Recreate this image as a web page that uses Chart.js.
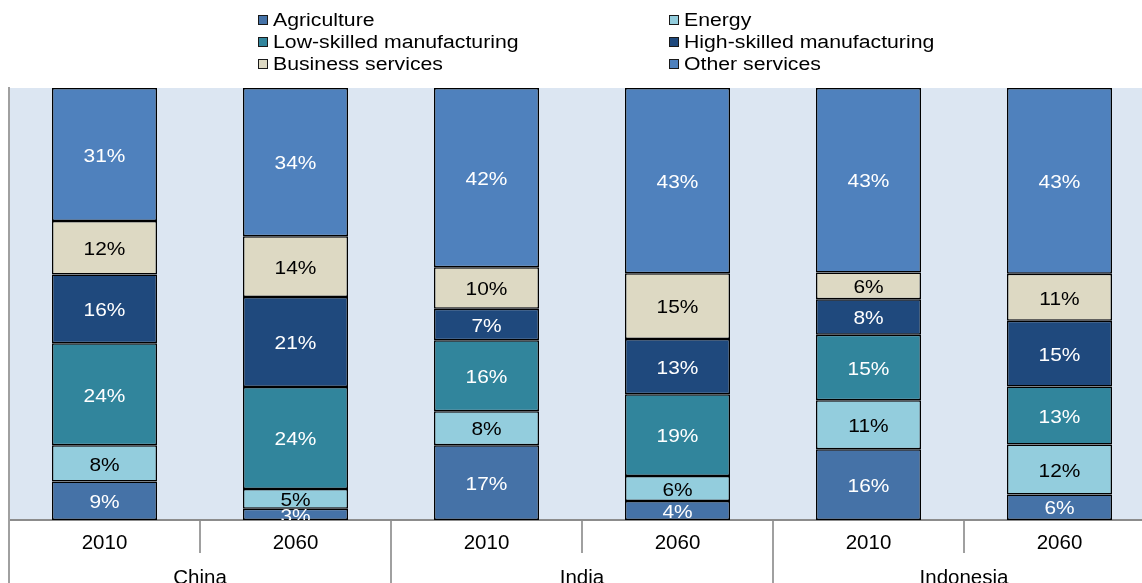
<!DOCTYPE html>
<html><head><meta charset="utf-8">
<script src="https://cdn.jsdelivr.net/npm/chart.js@4/dist/chart.umd.min.js"></script>
<style>
html,body{margin:0;padding:0;background:#fff;overflow:hidden;}
#wrap{position:relative;width:1155px;height:600px;}
#legend{position:absolute;left:0;top:0;width:1142px;height:80px;font-family:"Liberation Sans",Arial,sans-serif;font-size:18px;color:#000;}
.li{position:absolute;display:flex;align-items:center;white-space:nowrap;line-height:1;height:20px;margin-top:-10px;}
.sw{width:8px;height:8px;border:1px solid #1a1a1a;margin-right:5px;flex:none;}
.tx{display:inline-block;transform:scaleX(1.18);transform-origin:0 50%;}
</style></head><body>
<div id="wrap"><canvas id="c"></canvas><div id="legend"></div></div>
<script>
const categories = ['2010','2060','2010','2060','2010','2060'];
const countries = ['China','India','Indonesia'];
const seriesNames = ['Agriculture','Energy','Low-skilled manufacturing','High-skilled manufacturing','Business services','Other services'];
const agriculture = [8.9, 2.6, 17.3, 4.4, 16.4, 5.9];
const energy      = [8.4, 4.6, 7.9, 5.8, 11.3, 11.6];
const lowSkilled  = [23.6, 23.6, 16.4, 18.9, 15.2, 13.4];
const highSkilled = [15.9, 20.8, 7.3, 12.8, 8.2, 15.2];
const business    = [12.4, 14.1, 9.6, 15.2, 6.2, 10.9];
const otherServ   = [30.8, 34.3, 41.5, 42.9, 42.7, 43.0];

const seriesData = [agriculture, energy, lowSkilled, highSkilled, business, otherServ];
const colors = ['#4572A7','#93CDDD','#31859C','#1F497D','#DDD9C3','#4F81BD'];
const labelColors = ['#fff','#000','#fff','#fff','#000','#fff'];
const FONT = '"Liberation Sans", Arial, sans-serif';

// HTML legend (two columns, three rows)
const legendPos = [[258,20],[669,20],[258,42],[669,42],[258,64],[669,64]];
const lg = document.getElementById('legend');
seriesNames.forEach((n,i)=>{
  const d = document.createElement('div');
  d.className='li';
  d.style.left = legendPos[i][0]+'px';
  d.style.top = legendPos[i][1]+'px';
  d.innerHTML = '<span class="sw" style="background:'+colors[i]+'"></span><span class="tx">'+n+'</span>';
  lg.appendChild(d);
});

const bgPlugin = {
  id:'plotBg',
  beforeDraw(chart){
    const a = chart.chartArea, ctx = chart.ctx;
    ctx.save(); ctx.fillStyle = '#DCE6F2';
    ctx.fillRect(a.left, a.top, a.right-a.left, a.bottom-a.top);
    ctx.restore();
  }
};
const labelPlugin = {
  id:'segLabels',
  afterDatasetsDraw(chart){
    const ctx = chart.ctx, a = chart.chartArea;
    ctx.save();
    ctx.beginPath(); ctx.rect(a.left, a.top, a.right-a.left, a.bottom-a.top); ctx.clip();
    ctx.font = '19px ' + FONT;
    ctx.textAlign = 'center'; ctx.textBaseline = 'middle';
    chart.data.datasets.forEach((ds,i)=>{
      const meta = chart.getDatasetMeta(i);
      meta.data.forEach((el,j)=>{
        const p = el.getProps(['x','y','base'], true);
        ctx.save();
        ctx.translate(p.x, (p.y + p.base)/2 + 2);
        ctx.scale(1.1, 1);
        ctx.fillStyle = labelColors[i];
        ctx.fillText(Math.round(ds.data[j]) + '%', 0, 0);
        ctx.restore();
      });
    });
    ctx.restore();
  }
};

new Chart(document.getElementById('c'), {
  type:'bar',
  data:{
    labels: categories,
    datasets: seriesNames.map((n,i)=>({
      label:n, data:seriesData[i], backgroundColor:colors[i],
      borderColor:'#000', borderWidth:1.5, borderSkipped:false,
      barPercentage:0.55, categoryPercentage:1.0
    }))
  },
  options:{
    responsive:true, maintainAspectRatio:false, animation:false,
    layout:{padding:{top:88,left:0,right:0,bottom:0}},
    plugins:{legend:{display:false}, tooltip:{enabled:false}},
    scales:{
      x:{
        stacked:true, position:'bottom', weight:0, offset:true,
        grid:{display:true, drawOnChartArea:false, drawTicks:true, tickLength:33, offset:true, color:'#a0a0a0', lineWidth:2},
        border:{display:true, color:'#8c8c8c', width:2},
        ticks:{padding:-22, color:'#000', font:{size:20.5, family:FONT}, maxRotation:0, autoSkip:false},
        afterFit(s){ s.height = 33; }
      },
      x2:{
        type:'category', labels:countries, position:'bottom', weight:10, offset:true,
        grid:{display:true, drawOnChartArea:false, drawTicks:true, tickLength:47, offset:true, color:'#a0a0a0', lineWidth:2},
        border:{display:false},
        ticks:{padding:-34, color:'#000', font:{size:20.5, family:FONT}, maxRotation:0, autoSkip:false},
        afterFit(s){ s.height = 47; }
      },
      y:{
        stacked:true, min:0, max:100,
        ticks:{display:false},
        grid:{display:false, drawTicks:false},
        border:{display:true, color:'#a0a0a0', width:2},
        afterFit(s){ s.width = 9; }
      }
    }
  },
  plugins:[bgPlugin, labelPlugin]
});
</script>
</body></html>
